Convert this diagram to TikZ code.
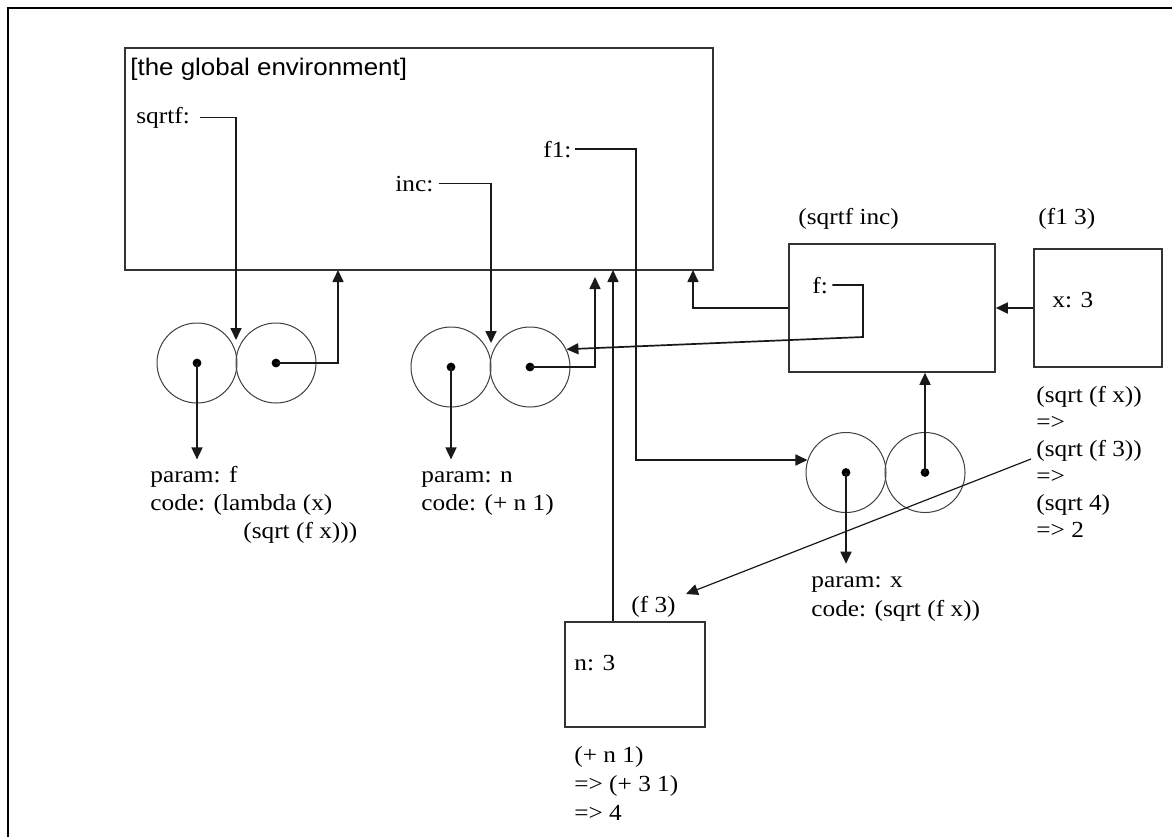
\documentclass[tikz,border=0pt]{standalone}
\usepackage{fontspec}
\setmainfont[FakeStretch=1.1]{Liberation Serif}
\newfontfamily\envfont[FakeStretch=1.08]{Liberation Sans}
\usetikzlibrary{arrows.meta,calc}
\begin{document}
\begin{tikzpicture}[x=0.5pt,y=-0.5pt,
  box/.style={draw=black!80, line width=0.8pt, inner sep=0pt, rectangle},
  cell/.style={draw=black!75, line width=0.5pt, circle, minimum size=40pt, inner sep=0pt},
  dot/.style={circle, fill=black, minimum size=4.4pt, inner sep=0pt},
  arr/.style={draw=black!90, line width=0.85pt, -{Triangle[length=6pt,width=5.5pt]}},
  lbl/.style={inner sep=0pt, anchor=base west, font=\fontsize{11.5}{14}\selectfont},
  txt/.style={inner sep=0pt, anchor=north west, align=left, font=\fontsize{11.5}{14}\selectfont}]
\useasboundingbox (0,0) rectangle (1172,837);
\fill[white] (0,0) rectangle (1172,837);
% frame
\draw[line width=1pt] (7.5,837) -- (7.5,7.5) -- (1172,7.5);

% global environment
\node[box, minimum width=294pt, minimum height=111pt] (genv) at (419,159) {};
\node[inner sep=0pt, anchor=base west, font=\envfont\fontsize{12}{14}\selectfont] (genvlbl) at (130,75) {[the global environment]};
\node[lbl] (sqrtf) at (136,123) {sqrtf:};
\node[lbl] (inc) at (395,191) {inc:};
\node[lbl] (fone) at (543,157) {f1:};

% closures
\node[cell] (c1l) at (197,363) {};
\node[cell] (c1r) at (276,363) {};
\node[dot] (d1l) at (197,363) {};
\node[dot] (d1r) at (276,363) {};
\node[cell] (c2l) at (451,367) {};
\node[cell] (c2r) at (530,367) {};
\node[dot] (d2l) at (451,367) {};
\node[dot] (d2r) at (530,367) {};
\node[cell] (c3l) at (846,472.5) {};
\node[cell] (c3r) at (925,472.5) {};
\node[dot] (d3l) at (846,472.5) {};
\node[dot] (d3r) at (925,472.5) {};

\node[txt] (code1) at (150,462.4) {\strut param: f\\code: (lambda (x)\\\hspace*{46.5pt}(sqrt (f x)))};
\node[txt] (code2) at (421,462.4) {\strut param: n\\code: (+ n 1)};
\node[txt, font=\fontsize{11.5}{14.5}\selectfont] (code3) at (811,566.7) {\strut param: x\\code: (sqrt (f x))};

% frame (sqrtf inc)
\node[lbl] (silbl) at (798,224) {(sqrtf inc)};
\node[box, minimum width=103pt, minimum height=64pt] (sibox) at (892,308) {};
\node[lbl] (fvar) at (812,293) {f:};

% frame (f1 3)
\node[lbl] (f13lbl) at (1038,224) {(f1 3)};
\node[box, minimum width=64pt, minimum height=59pt] (f13box) at (1098,308) {};
\node[lbl] (xvar) at (1052,307) {x: 3};
\node[txt, font=\fontsize{11.5}{13.5}\selectfont] (eval1) at (1036,383) {\strut (sqrt (f x))\\=>\\(sqrt (f 3))\\=>\\(sqrt 4)\\=> 2};

% frame (f 3)
\node[lbl] (f3lbl) at (631,612) {(f 3)};
\node[box, minimum width=70pt, minimum height=52.5pt] (nbox) at (635,674.5) {};
\node[lbl] (nvar) at (574,670) {n: 3};
\node[txt, font=\fontsize{11.5}{14.5}\selectfont] (eval2) at (574,741.7) {\strut (+ n 1)\\=> (+ 3 1)\\=> 4};

% helper coordinates
\coordinate (t1) at (236,340);
\coordinate (t2) at (491,343);
\coordinate (f1x) at (636,0);
\coordinate (gb1) at (338,270);
\coordinate (gb2) at (595,277);
\coordinate (gb3) at (693,270);
\coordinate (gb4) at (613,270);
\coordinate (fb) at (863,337);
\coordinate (s3) at (1031,459);
\coordinate (f3tip) at (686,594);

% connectors
\draw[arr, shorten <=5pt] (sqrtf.east) -| (t1);
\draw[arr, shorten <=2.5pt] (inc.east) -| (t2);
\draw[arr, shorten <=1.5pt] (fone.east) -| (c3l.162 -| f1x) -- (c3l.162);
\draw[arr, shorten >=1.5pt] (d1l.center) -- (d1l.center |- code1.north);
\draw[arr] (d1r.center) -| (gb1);
\draw[arr, shorten >=1.5pt] (d2l.center) -- (d2l.center |- code2.north);
\draw[arr] (d2r.center) -| (gb2);
\draw[arr, shorten <=2pt] (fvar.east) -| (fb) -- (c2r.26);
\draw[arr] (sibox.west) -| (gb3);
\draw[arr] (f13box.west) -- (f13box.west -| sibox.east);
\draw[arr] (d3r.center) -- (d3r.center |- sibox.south);
\draw[arr, shorten >=1.5pt] (d3l.center) -- (d3l.center |- code3.north);
\draw[arr] (gb4 |- nbox.north) -- (gb4);
\draw[arr, line width=0.6pt] (s3) -- (f3tip);
\end{tikzpicture}
\end{document}
